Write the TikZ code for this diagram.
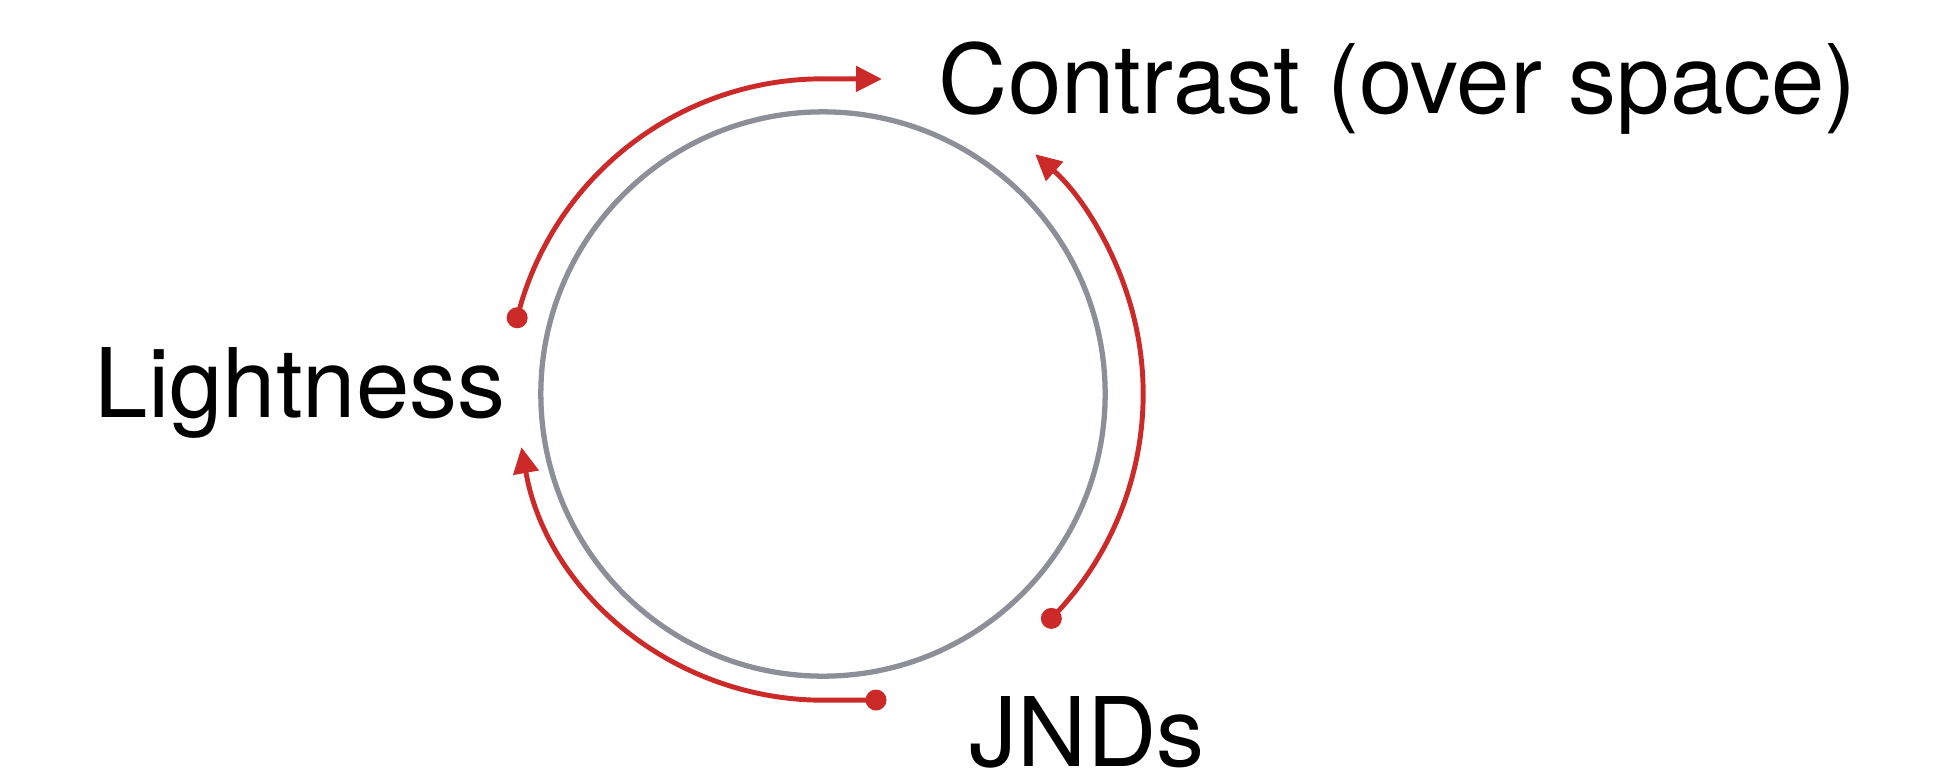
\documentclass[tikz,border=0pt]{standalone}
\usepackage{fontspec}
\setmainfont{TeX Gyre Heros}
\usetikzlibrary{arrows.meta,calc}
\definecolor{arcred}{RGB}{204,41,41}
\definecolor{ringgray}{RGB}{140,142,152}
\tikzset{
  lab/.style={anchor=base west, inner sep=0pt, font=\fontsize{27.3pt}{32pt}\selectfont, text=black},
  ringstyle/.style={draw=ringgray, line width=1.5pt, circle, inner sep=0pt, minimum size=5.64cm},
  redarc/.style={draw=arcred, line width=1.4pt, -{Triangle[length=0.26cm,width=0.25cm]}},
  reddot/.style={fill=arcred}
}
\begin{document}
\begin{tikzpicture}[x=0.01cm,y=0.01cm]
\useasboundingbox (0,0) rectangle (1960,-772);
\coordinate (O) at (823,-394);
\node[ringstyle] (ring) at (O) {};
\node[lab] (contrast) at (938,-113) {Contrast (over space)};
\node[lab] (light) at (94,-417) {Lightness};
\node[lab] (jnd) at (969,-766) {JNDs};
% anchor coordinates
\coordinate (d1) at ($(O)+(166:3.15cm)$);
\coordinate (t1) at (882,-79);
\coordinate (d2) at (876,-700);
\coordinate (d3) at ($(O)+(-44.5:3.2cm)$);
% top arc: Lightness -> Contrast
\draw[redarc] (d1) arc[start angle=166, end angle=90, radius=3.15cm] -- (t1);
\fill[reddot] (d1) circle[radius=0.105cm];
% bottom-left arc: JNDs -> Lightness
\draw[redarc] (d2) -- ($(O)+(270:3.06cm)$) arc[start angle=270, end angle=190, radius=3.06cm];
\fill[reddot] (d2) circle[radius=0.105cm];
% right arc: JNDs -> Contrast
\draw[redarc] (d3) arc[start angle=-44.5, end angle=48.5, radius=3.2cm];
\fill[reddot] (d3) circle[radius=0.105cm];
\end{tikzpicture}
\end{document}
